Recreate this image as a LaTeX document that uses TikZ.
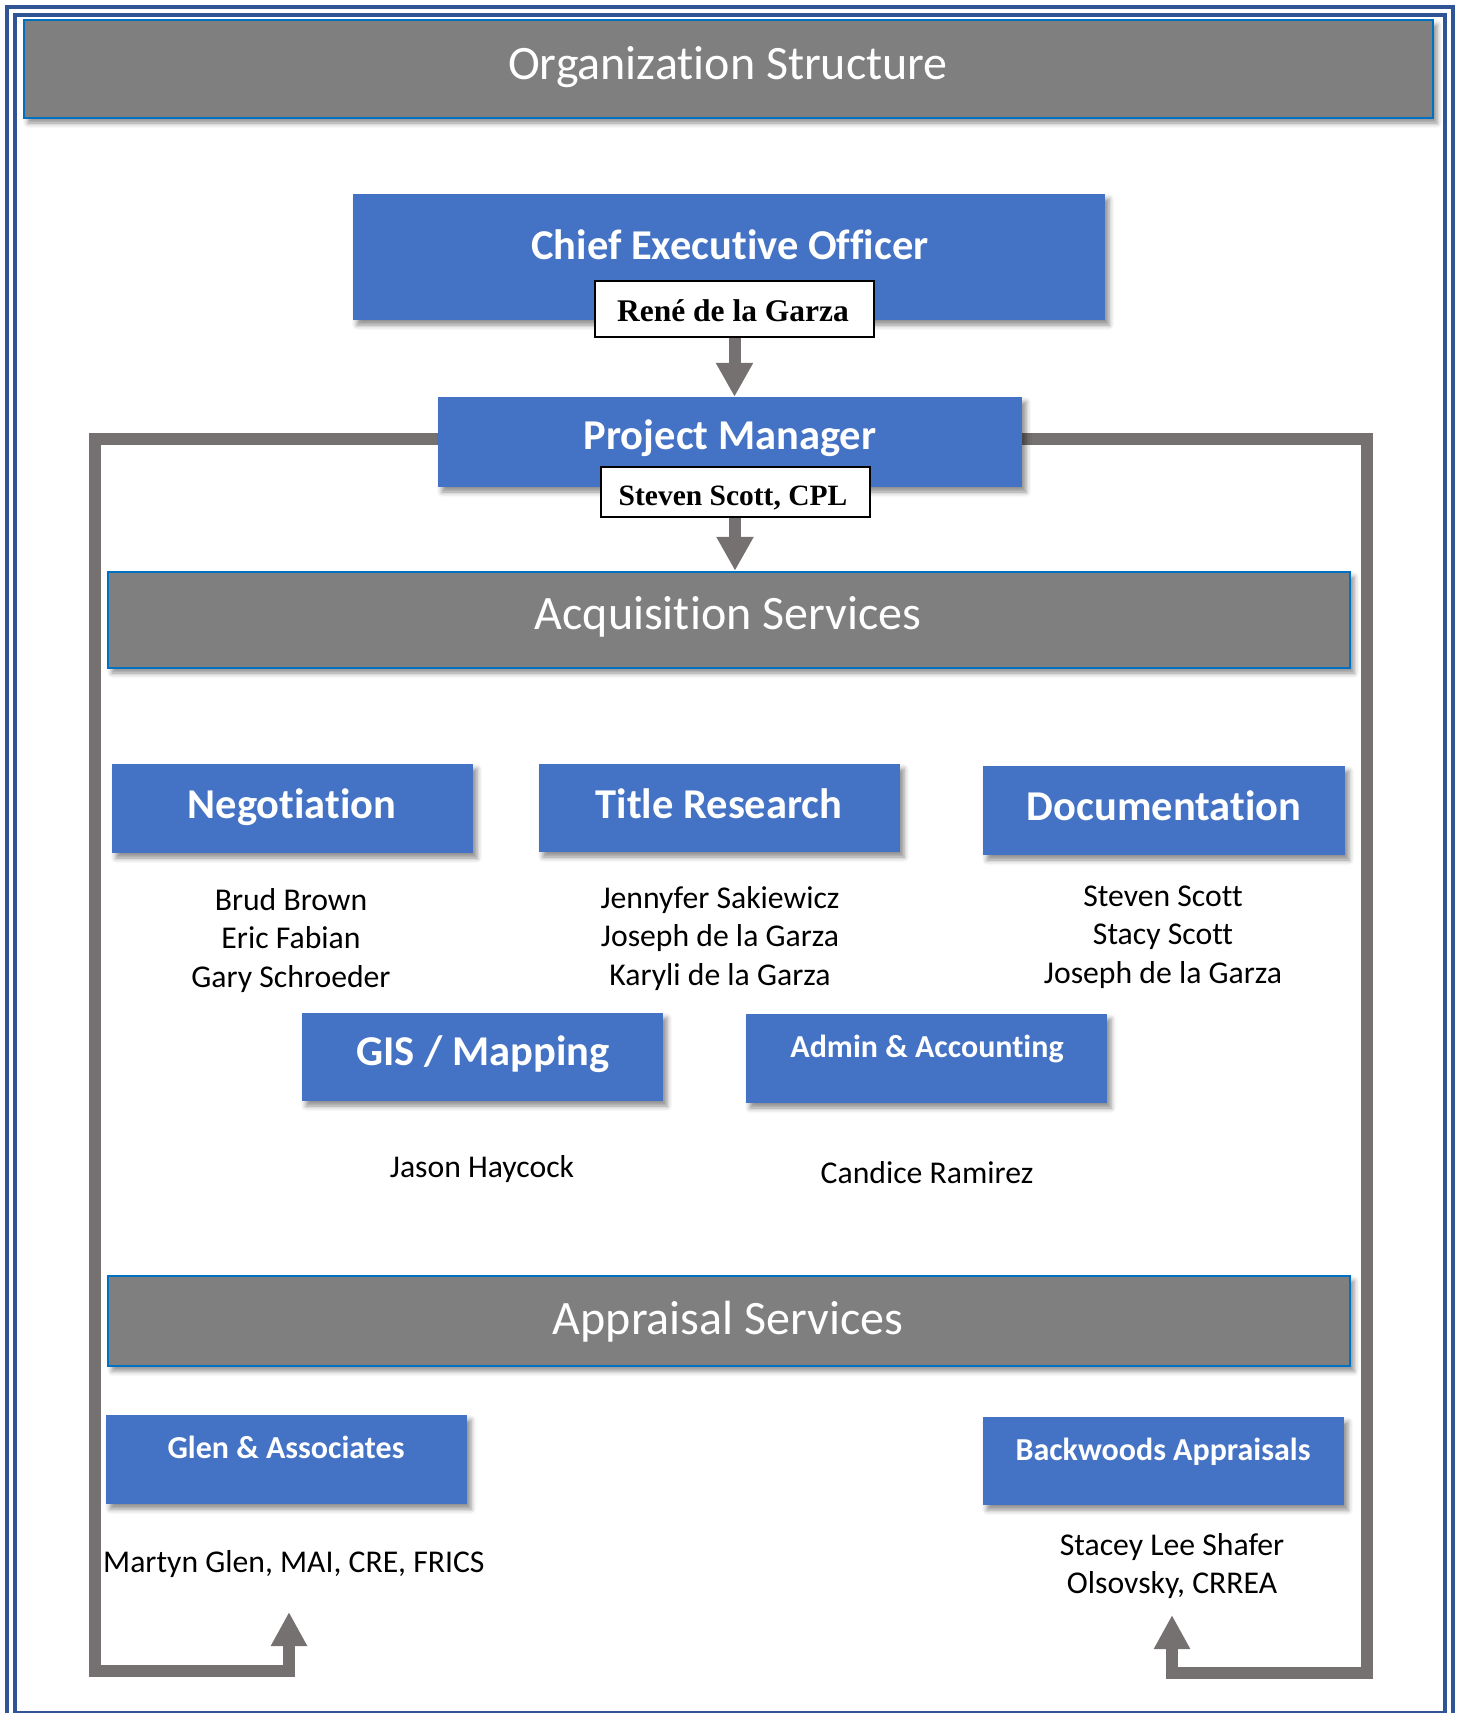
\documentclass[tikz,border=0pt]{standalone}
\usepackage{fontspec}
\setmainfont{Carlito}[Ligatures={NoCommon}]
\newfontfamily\tnr{Liberation Serif}
\usetikzlibrary{arrows.meta,shadows.blur}
\definecolor{boxblue}{HTML}{4472C4}
\definecolor{bargray}{HTML}{7F7F7F}
\definecolor{barline}{HTML}{0070C0}
\definecolor{conngray}{HTML}{767171}
\definecolor{frameblue}{HTML}{2F5597}
\tikzset{
  softshadow/.style={blur shadow={shadow xshift=4pt,shadow yshift=-5pt,shadow blur radius=5pt,shadow opacity=45}},
  bluebox/.style={rectangle, fill=boxblue, draw=none, inner sep=0pt, softshadow},
  graybar/.style={rectangle, fill=bargray, draw=barline, line width=2.5pt, inner sep=0pt, softshadow},
  namebox/.style={rectangle, fill=white, draw=black, line width=2pt, inner sep=0pt},
  bartext/.style={anchor=base, inner sep=0pt, text=white, font=\fontsize{48}{58}\selectfont},
  bigtext/.style={anchor=base, inner sep=0pt, text=white, font=\fontsize{42.5}{51}\selectfont\bfseries},
  midtext/.style={anchor=base, inner sep=0pt, text=white, font=\fontsize{32}{39}\selectfont\bfseries},
  nametext/.style={anchor=base, inner sep=0pt, text=black, font=\fontsize{31.7}{38.7}\selectfont},
  serifname/.style={anchor=base, inner sep=0pt, text=black, font=\tnr\bfseries},
  conn/.style={draw=conngray, line width=12pt, line join=miter},
  frame/.style={draw=frameblue, line width=4pt}
}
\begin{document}
\begin{tikzpicture}[x=1pt,y=-1pt]
\useasboundingbox (0,0) rectangle (1458,1713);
% page frame
\draw[frame] (7,7) rectangle (1453,1721);
\draw[frame] (15,15) rectangle (1445,1713);

% title bar
\node[graybar, minimum width=1409pt, minimum height=98pt] (title) at (728.5,69) {};
\node[bartext] (titletext) at (728,79) {Organization Structure};

% CEO
\node[bluebox, minimum width=752pt, minimum height=126pt] (ceo) at (729,257) {};
\node[bigtext] (ceotext) at (730,259) {Chief Executive Officer};
\node[namebox, minimum width=279pt, minimum height=56pt] (rene) at (734.5,309) {};
\node[serifname, font=\tnr\bfseries\fontsize{31.5}{36}\selectfont] (renetext) at (733,321) {René de la Garza};

% acquisition bar
\node[graybar, minimum width=1242pt, minimum height=96pt] (acq) at (729,620) {};
\node[bartext] (acqtext) at (728,629.5) {Acquisition Services};

% appraisal bar
\node[graybar, minimum width=1242pt, minimum height=90pt] (appr) at (729,1321) {};
\node[bartext] (apprtext) at (728,1334) {Appraisal Services};

% arrow targets
\coordinate (glenarrow) at (289,1612);
\coordinate (backarrow) at (1172,1615);

% side connectors (behind PM box)
\draw[conn, -{Triangle[width=34pt,length=34pt]}] (440,439) -| (95,1671) -| (glenarrow);
\draw[conn, -{Triangle[width=34pt,length=34pt]}] (1020,439) -| (1367,1673) -| (backarrow);

% PM
\node[bluebox, minimum width=584pt, minimum height=90pt] (pm) at (730,442) {};
\node[bigtext] (pmtext) at (730,449) {Project Manager};
\node[namebox, minimum width=269pt, minimum height=50pt] (sscott) at (735,492) {};
\node[serifname, font=\tnr\bfseries\fontsize{29.5}{34}\selectfont] (sscotttext) at (733,505) {Steven Scott, CPL};

% down arrows
\draw[conn, -{Triangle[width=35pt,length=34pt]}] (rene.south) -- (rene.south |- pm.north);
\draw[conn, -{Triangle[width=35pt,length=34pt]}] (sscott.south) -- (sscott.south |- acq.north);

% departments
\node[bluebox, minimum width=361pt, minimum height=89pt] (neg) at (292.5,808.5) {};
\node[bigtext] (negtext) at (292,818) {Negotiation};
\node[bluebox, minimum width=361pt, minimum height=88pt] (tr) at (719.5,808) {};
\node[bigtext] (trtext) at (719,818) {Title Research};
\node[bluebox, minimum width=362pt, minimum height=89pt] (doc) at (1164,810.5) {};
\node[bigtext] (doctext) at (1164,820) {Documentation};

\node[nametext] (neg1) at (291,910) {Brud Brown};
\node[nametext] (neg2) at (291,948.5) {Eric Fabian};
\node[nametext] (neg3) at (291,987) {Gary Schroeder};

\node[nametext] (tr1) at (720,908) {Jennyfer Sakiewicz};
\node[nametext] (tr2) at (720,946.5) {Joseph de la Garza};
\node[nametext] (tr3) at (720,985) {Karyli de la Garza};

\node[nametext] (doc1) at (1163,906) {Steven Scott};
\node[nametext] (doc2) at (1163,944.5) {Stacy Scott};
\node[nametext] (doc3) at (1163,983) {Joseph de la Garza};

\node[bluebox, minimum width=361pt, minimum height=88pt] (gis) at (482.5,1057) {};
\node[bigtext] (gistext) at (483,1065.5) {GIS / Mapping};
\node[bluebox, minimum width=361pt, minimum height=89pt] (admin) at (926.5,1058.5) {};
\node[midtext] (admintext) at (927,1057) {Admin \& Accounting};

\node[nametext] (gis1) at (482,1177) {Jason Haycock};
\node[nametext] (admin1) at (927,1183) {Candice Ramirez};

% appraisers
\node[bluebox, minimum width=361pt, minimum height=89pt] (glen) at (286.5,1459.5) {};
\node[midtext] (glentext) at (286,1458) {Glen \& Associates};
\node[bluebox, minimum width=361pt, minimum height=88pt] (back) at (1163.5,1461) {};
\node[midtext] (backtext) at (1163,1460) {Backwoods Appraisals};

\node[nametext, anchor=base west] (glen1) at (103,1572) {Martyn Glen, MAI, CRE, FRICS};
\node[nametext] (back1) at (1172,1555) {Stacey Lee Shafer};
\node[nametext] (back2) at (1172,1593) {Olsovsky, CRREA};
\end{tikzpicture}
\end{document}
